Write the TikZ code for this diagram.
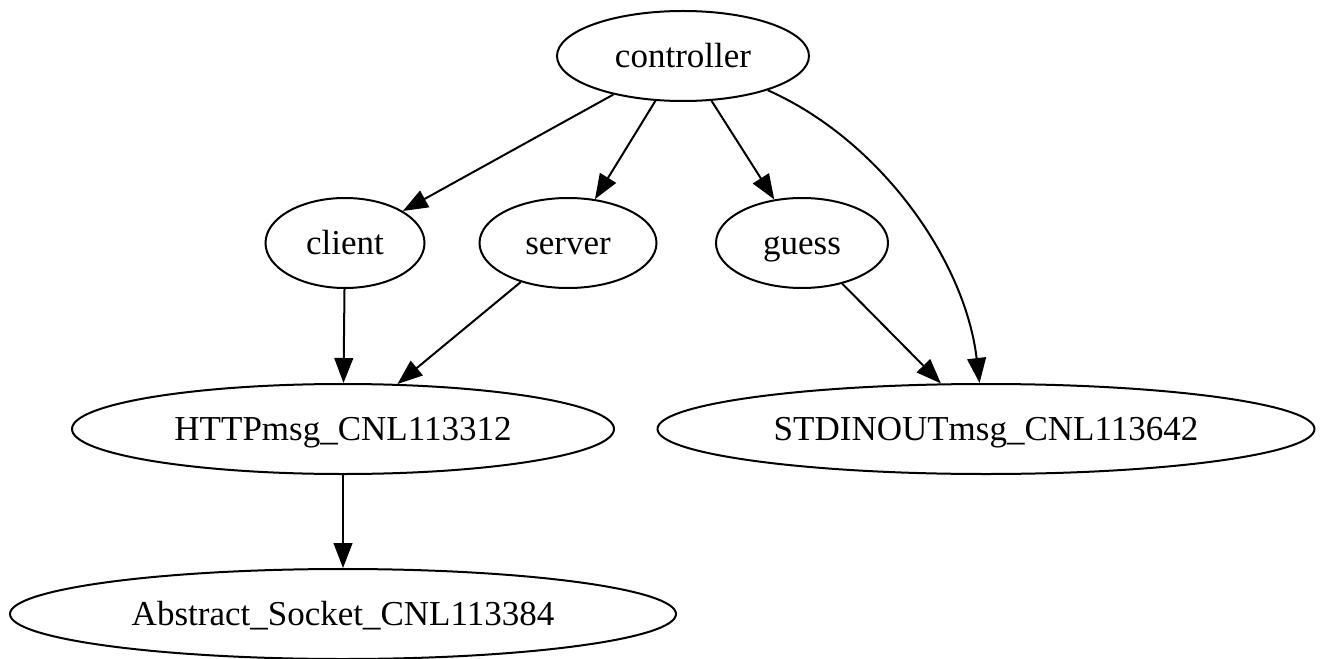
\documentclass[tikz,border=0pt]{standalone}
\usepackage{fontspec}
\setmainfont{Liberation Serif}
\usetikzlibrary{shapes.geometric,arrows.meta}
\begin{document}
\begin{tikzpicture}[x=0.4pt,y=-0.4pt,
  nd/.style={draw,ellipse,inner sep=0pt,minimum height=36pt,text height=10.5pt,text depth=1.5pt,font=\fontsize{14}{16}\selectfont,line width=0.8pt},
  edge/.style={-{Triangle[length=10pt,width=7.5pt]},line width=0.8pt}]
\useasboundingbox (0,0) rectangle (1325,659);
\node[nd,minimum width=100.8pt] (ctrl) at (683,56) {controller};
\node[nd,minimum width=63.6pt] (client) at (345,243) {client};
\node[nd,minimum width=70.8pt] (server) at (568,243) {server};
\node[nd,minimum width=68.8pt] (guess) at (802,243) {guess};
\node[nd,minimum width=216.8pt] (http) at (343,429) {HTTPmsg\_CNL113312};
\node[nd,minimum width=262.8pt] (std) at (986,429) {STDINOUTmsg\_CNL113642};
\node[nd,minimum width=266.4pt] (abs) at (343,614) {Abstract\_Socket\_CNL113384};
\draw[edge] (ctrl) -- (client);
\draw[edge] (ctrl) -- (server);
\draw[edge] (ctrl) -- (guess);
\draw[edge] (ctrl.-22) .. controls (880,140) and (965,260) .. (std.98);
\draw[edge] (client) -- (http);
\draw[edge] (server) -- (http);
\draw[edge] (guess) -- (std);
\draw[edge] (http) -- (abs);
\end{tikzpicture}
\end{document}
